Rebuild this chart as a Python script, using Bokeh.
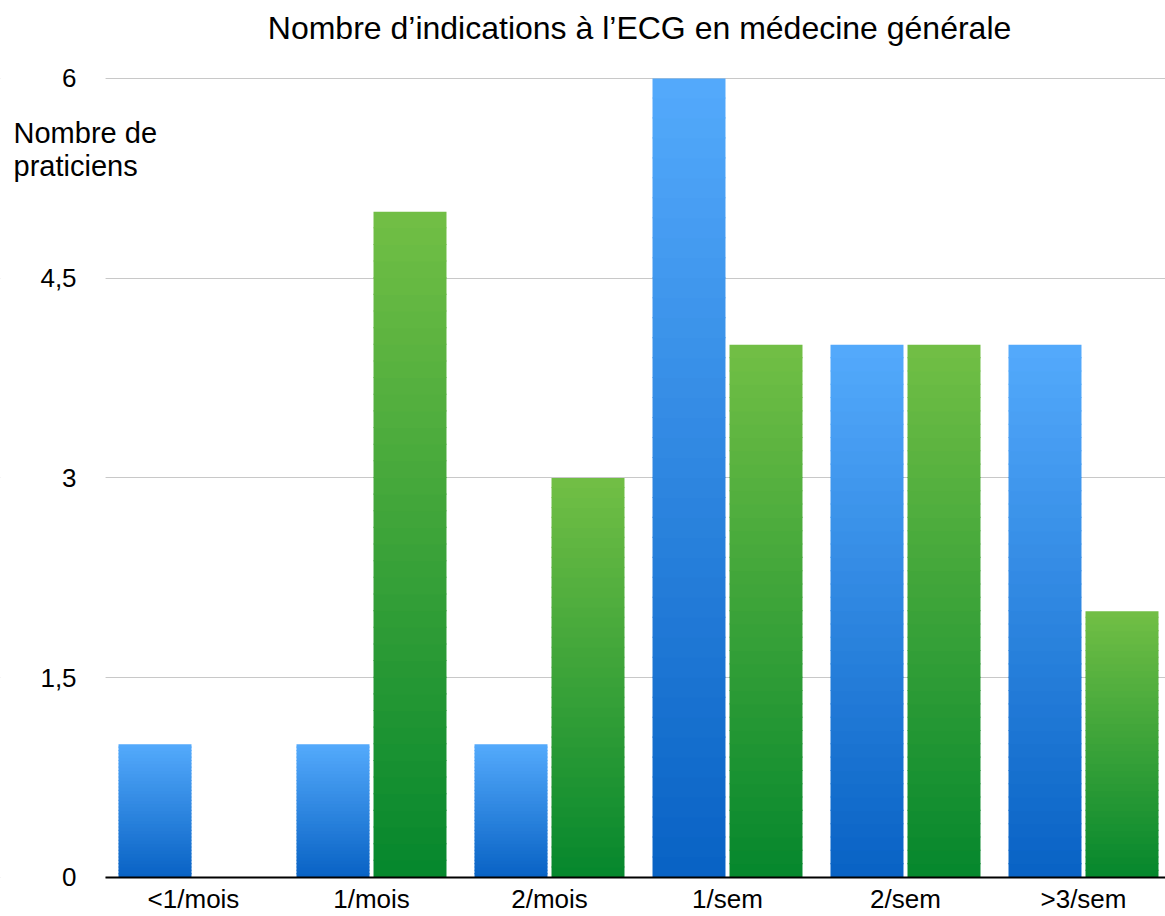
from bokeh.plotting import figure
from bokeh.models import (Range1d, FixedTicker, CustomJSTickFormatter, Label,
                          ColumnDataSource, BoxAnnotation)
from bokeh.embed import file_html
from bokeh.resources import INLINE

# ---- data ----
categories = ["<1/mois", "1/mois", "2/mois", "1/sem", "2/sem", ">3/sem"]
series_blue = [1, 1, 1, 6, 4, 4]
series_green = [0, 5, 3, 4, 4, 2]
y_ticks = [0, 1.5, 3, 4.5, 6]
title_text = "Nombre d\u2019indications \u00e0 l\u2019ECG en m\u00e9decine g\u00e9n\u00e9rale"
ylabel_lines = ["Nombre de", "praticiens"]

FONT = "Liberation Sans"
X_LEFT = -0.494   # left edge of the plotting area (data units)

p = figure(width=1165, height=916, output_backend="svg", toolbar_location=None,
           x_range=Range1d(-1.0843, 5.4607), y_range=Range1d(-0.2929, 6.5856),
           min_border_left=0, min_border_right=0, min_border_top=0, min_border_bottom=0)
p.outline_line_color = None
p.background_fill_color = "white"
p.border_fill_color = "white"


def hex2rgb(h):
    h = h.lstrip("#")
    return tuple(int(h[i:i + 2], 16) for i in (0, 2, 4))


def gradient_bars(xs, vals, top_col, bot_col, width, n=40):
    t_rgb, b_rgb = hex2rgb(top_col), hex2rgb(bot_col)
    xx, bots, tops, cols = [], [], [], []
    for k in range(n):
        frac = (k + 0.5) / n
        c = tuple(int(round(b_rgb[j] + (t_rgb[j] - b_rgb[j]) * frac)) for j in range(3))
        colhex = "#%02x%02x%02x" % c
        for x, v in zip(xs, vals):
            if v <= 0:
                continue
            xx.append(x)
            bots.append(v * k / n)
            tops.append(v * (k + 1) / n + (0.008 if k < n - 1 else 0.0))
            cols.append(colhex)
    src = ColumnDataSource(dict(x=xx, bottom=bots, top=tops, color=cols))
    p.vbar(x="x", top="top", bottom="bottom", width=width, fill_color="color",
           line_color=None, source=src)


idx = list(range(len(categories)))
off = 0.2163
bw = 0.41
gradient_bars([i - off for i in idx], series_blue, "#54aafc", "#0862c4", bw)
gradient_bars([i + off for i in idx], series_green, "#72bf45", "#05872d", bw)

# hide grid lines left of the plotting area
p.add_layout(BoxAnnotation(left=-1.0843, right=X_LEFT, bottom=-0.2929, top=6.5856,
                           fill_color="white", fill_alpha=1.0, line_color=None,
                           level="glyph"))

# axes (kept inside the frame at fixed locations)
p.xaxis.fixed_location = 0
p.xaxis.bounds = (X_LEFT, 5.4607)
p.xaxis.ticker = FixedTicker(ticks=idx)
p.xaxis.formatter = CustomJSTickFormatter(args=dict(labels=categories),
                                          code="const i = Math.round(tick); return (i >= 0 && i < labels.length) ? labels[i] : '';")
p.xaxis.axis_line_color = "black"
p.xaxis.axis_line_width = 2
p.xaxis.major_tick_line_color = None
p.xaxis.minor_tick_line_color = None
p.xaxis.major_tick_out = 0
p.xaxis.major_tick_in = 0
p.xaxis.major_label_standoff = 7
p.xaxis.major_label_text_font = FONT
p.xaxis.major_label_text_font_size = "26px"
p.xaxis.major_label_text_color = "black"

p.yaxis.fixed_location = X_LEFT
p.yaxis.ticker = FixedTicker(ticks=y_ticks)
p.yaxis.formatter = CustomJSTickFormatter(code="return String(tick).replace('.', ',');")
p.yaxis.axis_line_color = None
p.yaxis.major_tick_line_color = None
p.yaxis.minor_tick_line_color = None
p.yaxis.major_tick_out = 0
p.yaxis.major_tick_in = 0
p.yaxis.major_label_standoff = 29
p.yaxis.major_label_text_font = FONT
p.yaxis.major_label_text_font_size = "26px"
p.yaxis.major_label_text_color = "black"

p.xgrid.grid_line_color = None
p.ygrid.grid_line_color = "#c8c8c8"
p.ygrid.grid_line_width = 1

# title
p.add_layout(Label(x=2.506, y=6.376, text=title_text, text_align="center",
                   text_baseline="alphabetic", text_font=FONT,
                   text_font_size="32px", text_color="black"))
# y-axis label
for line, yy in zip(ylabel_lines, [5.594, 5.346]):
    p.add_layout(Label(x=-1.011, y=yy, text=line, text_align="left",
                       text_baseline="alphabetic", text_font=FONT,
                       text_font_size="29px", text_color="black"))

open("out.html", "w").write(file_html(p, INLINE))
